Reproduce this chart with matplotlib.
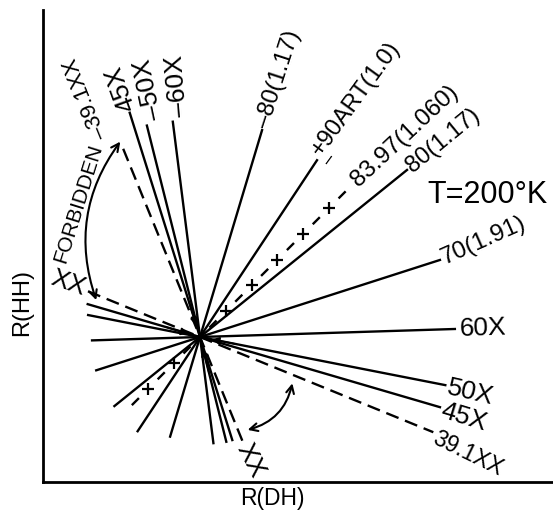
import numpy as np
import matplotlib.pyplot as plt

plt.rcParams['font.family'] = ['Liberation Sans', 'DejaVu Sans']
plt.rcParams['lines.scale_dashes'] = False

# correlation lines through the common point: angle of labelled arm (deg),
# length of labelled arm, length of opposite arm
labels = ['60X', '50X', '45X', '39.1XX', '70(1.91)', '80(1.17)', '83.97(1.060)',
          '+90ART(1.0)', '–80(1.17)', '–60X', '–50X', '45X', '–39.1XX']
angles = [1.8, -11.1, -16.3, -22.2, 17.8, 38.9, 45.0, 56.5, 73.3, 97.2, 104.1, 107.4, 112.2]
out_len = [255, 250, 250, 252, 252, 266, 206, 212, 216, 217, 218, 235, 209]
back_len = [108, 114, 117, 121, 109, 110, 97, 113, 104, 107, 108, 108, 112]
kind = ['solid', 'solid', 'solid', 'dash', 'solid', 'solid', 'plus',
        'solid', 'solid', 'solid', 'solid', 'solid', 'dash']

# label layout along each line
lab_rot = [1.8, -13, -17, -26, 24, 39.4, 43, 54, 72, 95, 102, 110, 112]
lab_gap = [5, 3, 2, 2, 2, 2, 12, 5, 3, 4, 4, 2, 12]
lab_perp = [0, -2, -3, -4, 0, 0, 0, 5, 0, -8, -10, 0, 16]
lab_size = [19, 19, 19, 16.5, 17.5, 17, 17.5, 17, 17, 19, 19, 19, 16]
xx_rot = {3: -19, 12: -63}

W, H = 553, 516
fig = plt.figure(figsize=(W / 100, H / 100), dpi=100)
ax = fig.add_axes([43 / W, (H - 482) / H, (W - 43) / W, (482 - 10) / H])
ax.set_xlim(0, W - 43)
ax.set_ylim(0, 482 - 10)
ax.set_xticks([])
ax.set_yticks([])
for s in ['top', 'right']:
    ax.spines[s].set_visible(False)
for s in ['left', 'bottom']:
    ax.spines[s].set_linewidth(2)

cx, cy = 157, 145


def pt(ang, r, perp=0):
    a = np.radians(ang)
    return (cx + r * np.cos(a) - perp * np.sin(a),
            cy + r * np.sin(a) + perp * np.cos(a))


for i in range(len(labels)):
    a = angles[i]
    p_out = pt(a, out_len[i])
    p_back = pt(a + 180, back_len[i])
    if kind[i] == 'solid':
        ax.plot([p_back[0], p_out[0]], [p_back[1], p_out[1]], color='k', lw=1.7)
    elif kind[i] == 'dash':
        ax.plot([p_back[0], p_out[0]], [p_back[1], p_out[1]], color='k', lw=1.7,
                linestyle=(0, (9.5, 5)))
        # XX at the far end of the opposite arm
        xx = pt(a + 180, back_len[i] + 21)
        ax.text(xx[0], xx[1], 'XX', fontsize=19, ha='center', va='center',
                rotation=xx_rot[i])
    else:
        # dash-plus line: each arm drawn outward from the centre
        step = 36.5
        for aa, L in [(a, out_len[i]), (a + 180, back_len[i])]:
            e = pt(aa, L)
            ax.plot([cx, e[0]], [cy, e[1]], color='k', lw=1.7,
                    linestyle=(16.7, (7.2, 19.1)))
            k = np.arange(1, int(L // step) + 1)
            pp = [pt(aa, r) for r in k * step]
            ax.plot([q[0] for q in pp], [q[1] for q in pp], ls='none', marker='+',
                    ms=8, mew=1.6, color='k')
    lp = pt(a, out_len[i] + lab_gap[i], lab_perp[i])
    ax.text(lp[0], lp[1], labels[i], rotation=lab_rot[i], rotation_mode='anchor',
            ha='left', va='center', fontsize=lab_size[i])

# small dash beside the + of the 90ART line
d = pt(angles[7], out_len[7] + 8, -10)
ax.text(d[0], d[1], '–', rotation=54, rotation_mode='anchor', ha='center',
        va='center', fontsize=13)

# direction arrowheads near the crossing point
for a in [angles[11], angles[2] + 180, angles[1], angles[10] + 180]:
    ax.annotate('', xy=pt(a, 12), xytext=pt(a, 36),
                arrowprops=dict(arrowstyle='-|>', color='k', lw=1.2,
                                mutation_scale=11, shrinkA=0, shrinkB=0))

# forbidden region arrows
ax.annotate('', xy=pt(angles[12], out_len[12] + 2), xytext=pt(angles[3] + 180, 110, 5),
            arrowprops=dict(arrowstyle='<->', color='k', lw=1.5, mutation_scale=14,
                            connectionstyle='arc3,rad=-0.26', shrinkA=0, shrinkB=0))
ax.annotate('', xy=pt(angles[3], 103, -8), xytext=pt(angles[12] + 180, 104, 9),
            arrowprops=dict(arrowstyle='<->', color='k', lw=1.5, mutation_scale=14,
                            connectionstyle='arc3,rad=0.3', shrinkA=0, shrinkB=0))

ax.text(35, 279, 'FORBIDDEN', rotation=72.7, ha='center', va='center', fontsize=15)
ax.text(444, 287, 'T=200°K', ha='center', va='center', fontsize=22)

fig.text(272 / W, 1 - 498 / H, 'R(DH)', ha='center', va='center', fontsize=16.5)
fig.text(22 / W, 1 - 302 / H, 'R(HH)', ha='center', va='center', fontsize=17,
         rotation=90)

fig.savefig('out.png', dpi=100)
